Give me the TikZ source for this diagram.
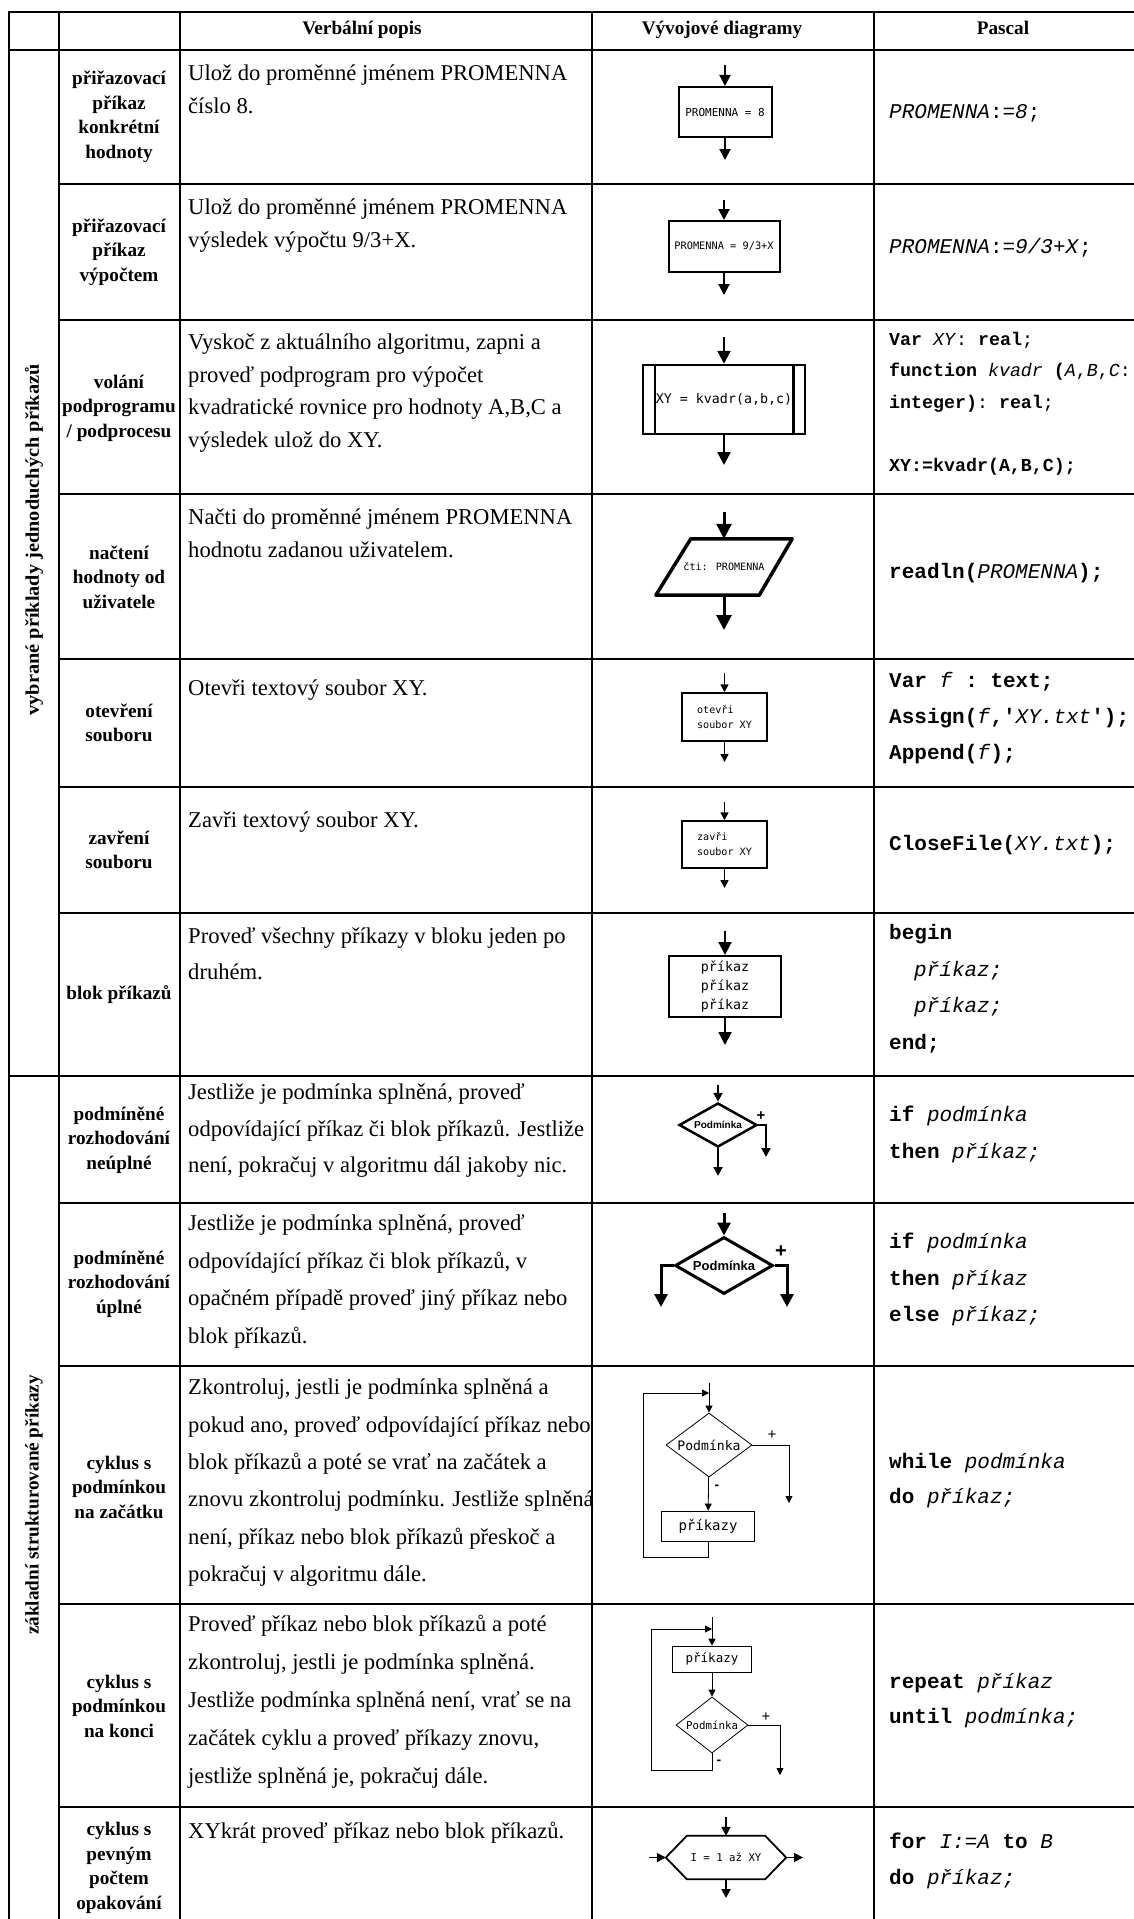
\documentclass[tikz,border=0pt]{standalone}
\usepackage{fontspec}
\setmainfont{Liberation Serif}
\setmonofont{Liberation Mono}
\newfontfamily\fcfont{DejaVu Sans Mono}
\newfontfamily\dgfont{Liberation Sans}
\usetikzlibrary{arrows.meta,shapes.geometric}

\newcommand\ts{\rule{0pt}{15pt}}
\newcommand\kw[1]{\textbf{#1}}
\newcommand\vr[1]{\textit{#1}}
\newcommand\fcs[2]{\fcfont\fontsize{#1}{#2}\selectfont}

\begin{document}
\begin{tikzpicture}[
    x=1pt, y=-1pt,
    grid/.style={line width=2.4pt, line cap=rect},
    hdr/.style={anchor=base, inner sep=0pt, font=\bfseries\fontsize{19.2}{23}\selectfont},
    side/.style={rotate=90, inner sep=0pt, font=\bfseries\fontsize{19.2}{23}\selectfont},
    lbl/.style={align=center, inner sep=0pt, font=\bfseries\fontsize{19.2}{24.5}\selectfont},
    desc/.style={anchor=north west, align=left, inner sep=0pt, font=\fontsize{22.6}{#1}\selectfont},
    code/.style={anchor=north west, align=left, inner sep=0pt, font=\ttfamily\fontsize{21}{#1}\selectfont},
    fbox/.style={draw, inner sep=0pt, align=center},
    dia/.style={draw, diamond, inner sep=0pt, aspect=1.6},
    ar/.style={-{Triangle[width=#1,length=#1]}},
    sign/.style={inner sep=0pt, font=\dgfont\bfseries\fontsize{#1}{#1}\selectfont}
]
\useasboundingbox (0,0) rectangle (1134,1919);

% mrizka tabulky
\foreach \x in {9,59,180,592,874} \draw[grid] (\x,12) -- (\x,1919);
\foreach \y in {12,50,1076} \draw[grid] (9,\y) -- (1134,\y);
\foreach \y in {184,320,494,659,787,913,1203,1366,1604,1807} \draw[grid] (59,\y) -- (1134,\y);

% hlavicka
\node[hdr] (hverb) at (362,35) {Verbální popis};
\node[hdr] (hdiag) at (722,35) {Vývojové diagramy};
\node[hdr] (hpas) at (1003,35) {Pascal};

% skupiny
\node[side] (g1) at (34,540) {\scalebox{1.06}[1]{vybrané příklady jednoduchých příkazů}};
\node[side] (g2) at (34,1505) {základní strukturované příkazy};

% nazvy
\node[lbl] (n1) at (119,117) {přiřazovací\\příkaz\\konkrétní\\hodnoty};
\node[lbl] (n2) at (119,252) {přiřazovací\\příkaz\\výpočtem};
\node[lbl] (n3) at (119,408) {volání\\podprogramu\\/ podprocesu};
\node[lbl] (n4) at (119,577) {načtení\\hodnoty od\\uživatele};
\node[lbl] (n5) at (119,723) {otevření\\souboru};
\node[lbl] (n6) at (119,850) {zavření\\souboru};
\node[lbl] (n7) at (119,995) {blok příkazů};
\node[lbl] (n8) at (119,1140) {podmíněné\\rozhodování\\neúplné};
\node[lbl] (n9) at (119,1284) {podmíněné\\rozhodování\\úplné};
\node[lbl] (n10) at (119,1487) {cyklus s\\podmínkou\\na začátku};
\node[lbl] (n11) at (119,1706) {cyklus s\\podmínkou\\na konci};
\node[lbl] (n12) at (119,1868) {cyklus s\\pevným\\počtem\\opakování};

% verbalni popis
\node[desc=33] (d1) at (188,65) {\ts Ulož do proměnné jménem PROMENNA\\číslo 8.};
\node[desc=33] (d2) at (188,199) {\ts Ulož do proměnné jménem PROMENNA\\výsledek výpočtu 9/3+X.};
\node[desc=32.5] (d3) at (188,334) {\ts Vyskoč z aktuálního algoritmu, zapni a\\proveď podprogram pro výpočet\\kvadratické rovnice pro hodnoty A,B,C a\\výsledek ulož do XY.};
\node[desc=33] (d4) at (188,509) {\ts Načti do proměnné jménem PROMENNA\\hodnotu zadanou uživatelem.};
\node[desc=33] (d5) at (188,680) {\ts Otevři textový soubor XY.};
\node[desc=33] (d6) at (188,812) {\ts Zavři textový soubor XY.};
\node[desc=36] (d7) at (188,928) {\ts Proveď všechny příkazy v bloku jeden po\\druhém.};
\node[desc=36.5] (d8) at (188,1084) {\ts Jestliže je podmínka splněná, proveď\\odpovídající příkaz či blok příkazů. Jestliže\\není, pokračuj v algoritmu dál jakoby nic.};
\node[desc=37.5] (d9) at (188,1215) {\ts Jestliže je podmínka splněná, proveď\\odpovídající příkaz či blok příkazů, v\\opačném případě proveď jiný příkaz nebo\\blok příkazů.};
\node[desc=37.3] (d10) at (188,1379) {\ts Zkontroluj, jestli je podmínka splněná a\\pokud ano, proveď odpovídající příkaz nebo\\blok příkazů a poté se vrať na začátek a\\znovu zkontroluj podmínku. Jestliže splněná\\není, příkaz nebo blok příkazů přeskoč a\\pokračuj v algoritmu dále.};
\node[desc=38] (d11) at (188,1615) {\ts Proveď příkaz nebo blok příkazů a poté\\zkontroluj, jestli je podmínka splněná.\\Jestliže podmínka splněná není, vrať se na\\začátek cyklu a proveď příkazy znovu,\\jestliže splněná je, pokračuj dále.};
\node[desc=36] (d12) at (188,1822) {\ts XYkrát proveď příkaz nebo blok příkazů.};

% Pascal
\node[code=20] (c1) at (889,103) {\ts\vr{PROMENNA}:=\vr{8};};
\node[code=20] (c2) at (889,238) {\ts\vr{PROMENNA}:=\vr{9/3+X};};
\node[code=31.5, font=\ttfamily\fontsize{18.3}{31.5}\selectfont] (c3) at (889,330) {\ts\kw{Var} \vr{XY}: \kw{real};\\\kw{function} \vr{kvadr} \kw{(}\vr{A},\vr{B},\vr{C}:\\\kw{integer)}: \kw{real};\\[31.5pt]\kw{XY:=kvadr(A,B,C);}};
\node[code=20] (c4) at (889,563) {\ts\kw{readln(}\vr{PROMENNA}\kw{);}};
\node[code=36] (c5) at (889,672) {\ts\kw{Var} \vr{f} \kw{: text;}\\\kw{Assign(}\vr{f}\kw{,'}\vr{XY.txt}\kw{');}\\\kw{Append(}\vr{f}\kw{);}};
\node[code=20] (c6) at (889,835) {\ts\kw{CloseFile(}\vr{XY.txt}\kw{);}};
\node[code=36.7] (c7) at (889,924) {\ts\kw{begin}\\\hspace*{25pt}\vr{příkaz;}\\\hspace*{25pt}\vr{příkaz;}\\\kw{end;}};
\node[code=37] (c8) at (889,1106) {\ts\kw{if} \vr{podmínka}\\\kw{then} \vr{příkaz;}};
\node[code=36.5] (c9) at (889,1233) {\ts\kw{if} \vr{podmínka}\\\kw{then} \vr{příkaz}\\\kw{else} \vr{příkaz;}};
\node[code=35] (c10) at (889,1453) {\ts\kw{while} \vr{podmínka}\\\kw{do} \vr{příkaz;}};
\node[code=35] (c11) at (889,1673) {\ts\kw{repeat} \vr{příkaz}\\\kw{until} \vr{podmínka;}};
\node[code=36] (c12) at (889,1833) {\ts\kw{for} \vr{I:=A} \kw{to} \vr{B}\\\kw{do} \vr{příkaz;}};

% 1 prirazeni
\node[fbox, line width=2pt, minimum width=93pt, minimum height=50pt, font=\fcs{11}{13}] (p1) at (725,112) {PROMENNA = 8};
\coordinate (p1in) at (725,65);
\coordinate (p1out) at (725,160);
\draw[ar=11pt, line width=2pt] (p1in) -- (p1);
\draw[ar=11pt, line width=2pt] (p1) -- (p1out);

% 2 vypocet
\node[fbox, line width=2pt, minimum width=111pt, minimum height=51pt, font=\fcs{10.3}{12}] (p2) at (724,246.5) {PROMENNA = 9/3+X};
\coordinate (p2in) at (724,200);
\coordinate (p2out) at (724,295);
\draw[ar=11pt, line width=2pt] (p2in) -- (p2);
\draw[ar=11pt, line width=2pt] (p2) -- (p2out);

% 3 podprogram
\node[fbox, line width=2.5pt, minimum width=162pt, minimum height=69pt, font=\fcs{13.3}{15}] (p3) at (724,399.5) {XY = kvadr(a,b,c)};
\draw[line width=2.5pt] ([xshift=13pt]p3.north west) -- ([xshift=13pt]p3.south west);
\draw[line width=2.5pt] ([xshift=-13pt]p3.north east) -- ([xshift=-13pt]p3.south east);
\coordinate (p3in) at (724,337);
\coordinate (p3out) at (724,465);
\draw[ar=13pt, line width=2.5pt] (p3in) -- (p3);
\draw[ar=13pt, line width=2.5pt] (p3) -- (p3out);

% 4 vstup
\node[inner sep=0pt, minimum width=136pt, minimum height=56pt, font=\fcs{10.1}{12}] (p4) at (724,567) {čti: PROMENNA};
\draw[line width=3.5pt, line join=round] ([xshift=35pt]p4.north west) -- (p4.north east) -- ([xshift=-33pt]p4.south east) -- (p4.south west) -- cycle;
\coordinate (p4in) at (724,512);
\coordinate (p4out) at (724,630);
\draw[ar=15pt, line width=3pt] (p4in) -- (p4.north);
\draw[ar=15pt, line width=3pt] (p4.south) -- (p4out);

% 5 otevreni
\node[fbox, align=left, line width=1.5pt, minimum width=85pt, minimum height=48pt, font=\fcs{10.1}{15}] (p5) at (724.5,717) {otevři\\soubor XY};
\coordinate (p5in) at (724.5,673);
\coordinate (p5out) at (724.5,762);
\draw[ar=8pt, line width=1.5pt] (p5in) -- (p5);
\draw[ar=8pt, line width=1.5pt] (p5) -- (p5out);

% 6 zavreni
\node[fbox, align=left, line width=1.5pt, minimum width=85pt, minimum height=47pt, font=\fcs{10.1}{15}] (p6) at (724.5,844.5) {zavři\\soubor XY};
\coordinate (p6in) at (724.5,802);
\coordinate (p6out) at (724.5,888);
\draw[ar=8pt, line width=1.5pt] (p6in) -- (p6);
\draw[ar=8pt, line width=1.5pt] (p6) -- (p6out);

% 7 blok
\node[fbox, line width=2pt, minimum width=112pt, minimum height=61pt, font=\fcs{13.3}{19}] (p7) at (725,986.5) {příkaz\\příkaz\\příkaz};
\coordinate (p7in) at (725,931);
\coordinate (p7out) at (725,1045);
\draw[ar=13pt, line width=2pt] (p7in) -- (p7);
\draw[ar=13pt, line width=2pt] (p7) -- (p7out);

% 8 neuplne
\node[dia, line width=2.5pt, minimum width=78pt, minimum height=44pt, font=\dgfont\bfseries\fontsize{10}{12}\selectfont] (p8) at (718,1125) {Podmínka};
\coordinate (p8in) at (718,1085);
\coordinate (p8out) at (718,1176);
\coordinate (p8yes) at (766,1157);
\draw[ar=9pt, line width=2pt] (p8in) -- (p8);
\draw[ar=9pt, line width=2pt] (p8) -- (p8out);
\draw[ar=9pt, line width=2pt] (p8) -| (p8yes);
\node[sign=15] (p8plus) at (761,1116) {+};

% 9 uplne
\node[dia, line width=3pt, minimum width=98pt, minimum height=57pt, font=\dgfont\bfseries\fontsize{13}{15}\selectfont] (p9) at (724,1265.5) {Podmínka};
\coordinate (p9in) at (724,1213);
\coordinate (p9no) at (661,1307);
\coordinate (p9yes) at (787,1307);
\draw[ar=13pt, line width=3pt] (p9in) -- (p9);
\draw[ar=13pt, line width=3pt] (p9) -| (p9no);
\draw[ar=13pt, line width=3pt] (p9) -| (p9yes);
\node[sign=20] (p9plus) at (781,1252) {+};

% 10 cyklus s podminkou na zacatku
\node[dia, line width=0.8pt, minimum width=86pt, minimum height=64pt, font=\fcs{13.1}{15}] (p10d) at (709,1445) {Podmínka};
\node[fbox, line width=0.8pt, minimum width=93pt, minimum height=30pt, font=\fcs{14}{16}] (p10b) at (708,1526) {příkazy};
\coordinate (p10in) at (709,1383);
\coordinate (p10j) at (709,1393);
\coordinate (p10lb) at (643,1557);
\coordinate (p10yes) at (789,1503);
\draw[ar=7pt, line width=0.8pt] (p10in) -- (p10d);
\draw[ar=7pt, line width=0.8pt] (p10d) -- (p10b);
\draw[ar=7pt, line width=0.8pt] (p10d) -| (p10yes);
\draw[ar=7pt, line width=0.8pt] (p10b) |- (p10lb) |- (p10j);
\node[sign=15, font=\dgfont\fontsize{15}{15}\selectfont] (p10plus) at (772,1435) {+};
\node[sign=14] (p10minus) at (717,1487) {-};

% 11 cyklus s podminkou na konci
\node[fbox, line width=0.8pt, minimum width=79pt, minimum height=26pt, font=\fcs{12.5}{14}] (p11b) at (712,1659) {příkazy};
\node[dia, line width=0.8pt, minimum width=72pt, minimum height=56pt, font=\fcs{10.8}{13}] (p11d) at (712,1725) {Podmínka};
\coordinate (p11in) at (712,1617);
\coordinate (p11j) at (712,1629);
\coordinate (p11lb) at (651,1770);
\coordinate (p11yes) at (780,1775);
\draw[ar=7pt, line width=0.8pt] (p11in) -- (p11b);
\draw[ar=7pt, line width=0.8pt] (p11b) -- (p11d);
\draw[ar=7pt, line width=0.8pt] (p11d) -| (p11yes);
\draw[ar=7pt, line width=0.8pt] (p11d) |- (p11lb) |- (p11j);
\node[sign=15, font=\dgfont\fontsize{15}{15}\selectfont] (p11plus) at (766,1717) {+};
\node[sign=14] (p11minus) at (719,1762) {-};

% 12 pevny pocet opakovani
\node[inner sep=0pt, minimum width=120pt, minimum height=43pt, font=\fcs{10.7}{13}] (p12) at (726,1857.5) {I = 1 až XY};
\draw[line width=1.8pt] (p12.west) -- ([xshift=21pt]p12.north west) -- ([xshift=-21pt]p12.north east) -- (p12.east) -- ([xshift=-21pt]p12.south east) -- ([xshift=21pt]p12.south west) -- cycle;
\coordinate (p12in) at (726,1817);
\coordinate (p12out) at (726,1898);
\coordinate (p12l) at (649,1857.5);
\coordinate (p12r) at (803,1857.5);
\draw[ar=9pt, line width=1.8pt] (p12in) -- (p12.north);
\draw[ar=9pt, line width=1.8pt] (p12.south) -- (p12out);
\draw[ar=9pt, line width=1.8pt] (p12l) -- (p12.west);
\draw[ar=9pt, line width=1.8pt] (p12.east) -- (p12r);
\end{tikzpicture}
\end{document}
